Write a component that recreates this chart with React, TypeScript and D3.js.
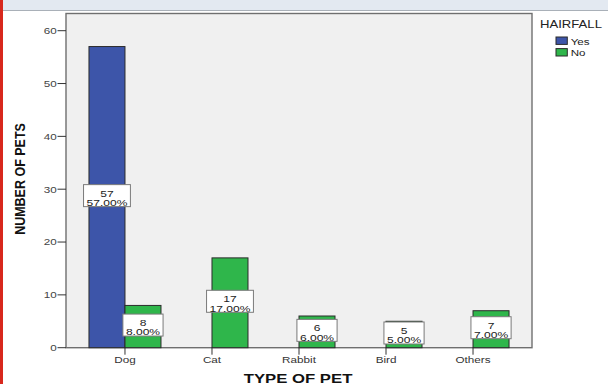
import React from "react";
import * as d3 from "d3";

// Pet ownership counts split by whether the pet sheds hair
const categories = ["Dog", "Cat", "Rabbit", "Bird", "Others"];
const series = ["Yes", "No"];
const yesCounts = [57, 0, 0, 0, 0];
const noCounts = [8, 17, 6, 5, 7];
const yTicks = [0, 10, 20, 30, 40, 50, 60];
const seriesColors = ["#3d55a9", "#2fb64b"];

const W = 608;
const H = 384;
const plot = { left: 66, right: 532, top: 13.5, bottom: 347.7 };
const SX = 1.25; // horizontal stretch applied to text
const FONT = "'Liberation Sans', Arial, sans-serif";

const total = d3.sum(yesCounts) + d3.sum(noCounts);

function SText(props: {
  x: number;
  y: number;
  sx?: number;
  rotate?: number;
  anchor?: string;
  size: number;
  weight?: string | number;
  fill?: string;
  children: React.ReactNode;
}) {
  const { x, y, sx = SX, rotate = 0, anchor = "start", size, weight = "normal", fill = "#333", children } = props;
  return (
    <text
      transform={`translate(${x},${y}) scale(${sx},1)${rotate ? ` rotate(${rotate})` : ""}`}
      textAnchor={anchor}
      fontSize={size}
      fontWeight={weight}
      fill={fill}
      fontFamily={FONT}
    >
      {children}
    </text>
  );
}

export default function App() {
  const x0 = d3
    .scaleBand<string>()
    .domain(categories)
    .range([plot.left, plot.right])
    .paddingInner(0.1724)
    .paddingOuter(0.264);
  const x1 = d3.scaleBand<string>().domain(series).range([0, x0.bandwidth()]);
  const y = d3.scaleLinear().domain([0, 60]).range([347.7, 30.7]);

  const values = [yesCounts, noCounts];
  const bars = categories
    .flatMap((c, ci) => series.map((s, si) => ({ c, s, si, v: values[si][ci] })))
    .filter((b) => b.v > 0);

  const tickLen = 8.5;

  return (
    <svg
      width={W}
      height={H}
      style={{ position: "absolute", left: 0, top: 0, background: "#fff" }}
    >
      {/* header strip and left accent */}
      <rect x={0} y={0} width={W} height={10} fill="#e3e9f1" />
      <line x1={0} x2={W} y1={10.5} y2={10.5} stroke="#a9b0b8" strokeWidth={1} />
      <rect x={0} y={0} width={3} height={H} fill="#d8281d" />

      {/* plot area */}
      <rect
        x={plot.left}
        y={plot.top}
        width={plot.right - plot.left}
        height={plot.bottom - plot.top}
        fill="#f0f0f0"
        stroke="#6f6f6f"
        strokeWidth={1.4}
      />

      {/* y axis */}
      {yTicks.map((t) => (
        <g key={t}>
          <line
            x1={plot.left - tickLen}
            x2={plot.left}
            y1={y(t)}
            y2={y(t)}
            stroke="#333"
            strokeWidth={1}
          />
          <SText x={plot.left - tickLen - 0.8} y={y(t) + 3.3} anchor="end" size={9} fill="#444" sx={1.3}>
            {t}
          </SText>
        </g>
      ))}

      {/* bars */}
      {bars.map((b) => {
        const bx = (x0(b.c) as number) + (x1(b.s) as number);
        return (
          <rect
            key={b.c + b.s}
            x={bx}
            y={y(b.v)}
            width={x1.bandwidth()}
            height={y(0) - y(b.v)}
            fill={seriesColors[b.si]}
            stroke="#2b2b2b"
            strokeWidth={1}
          />
        );
      })}

      {/* value labels: count and share of total */}
      {bars.map((b) => {
        const cx = (x0(b.c) as number) + (x1(b.s) as number) + x1.bandwidth() / 2;
        const mid = (y(b.v) + y(0)) / 2;
        const pct = ((b.v / total) * 100).toFixed(2) + "%";
        const fs = 9.8;
        const sx = 1.23;
        const approxW = (pct.length - 2) * 0.556 * fs + 0.278 * fs + 0.889 * fs;
        const boxW = approxW * sx + 6;
        return (
          <g key={"l" + b.c + b.s}>
            <rect
              x={cx - boxW / 2}
              y={mid - 12.5}
              width={boxW}
              height={22}
              fill="#fff"
              stroke="#7a7a7a"
              strokeWidth={1}
            />
            <text
              transform={`translate(${cx},${mid - 0.6}) scale(${sx},1)`}
              textAnchor="middle"
              fontSize={fs}
              fill="#222"
              fontFamily={FONT}
            >
              <tspan x={0} dy={0}>{b.v}</tspan>
              <tspan x={0} dy={9.4}>{pct}</tspan>
            </text>
          </g>
        );
      })}

      {/* x axis ticks and labels */}
      {categories.map((c) => {
        const cx = (x0(c) as number) + x0.bandwidth() / 2;
        return (
          <g key={c}>
            <line x1={cx} x2={cx} y1={plot.bottom} y2={plot.bottom + 7} stroke="#333" strokeWidth={1} />
            <SText x={cx} y={363} anchor="middle" size={9} fill="#333" sx={1.3}>
              {c}
            </SText>
          </g>
        );
      })}

      {/* axis titles */}
      <SText x={298} y={382.6} anchor="middle" size={13.5} weight="bold" fill="#111" sx={1.24}>
        TYPE OF PET
      </SText>
      <SText x={25} y={179} anchor="middle" size={12.5} weight="bold" fill="#111" sx={1.2} rotate={-90}>
        NUMBER OF PETS
      </SText>

      {/* legend */}
      <SText x={540} y={28.3} size={10.5} fill="#222" sx={1.25}>
        HAIRFALL
      </SText>
      {series.map((s, i) => (
        <g key={s}>
          <rect
            x={556}
            y={37 + i * 11.6}
            width={11.3}
            height={7.4}
            fill={seriesColors[i]}
            stroke="#2b2b2b"
            strokeWidth={1}
          />
          <SText x={570.7} y={44.6 + i * 11.6} size={9.5} fill="#222" sx={1.22}>
            {s}
          </SText>
        </g>
      ))}
    </svg>
  );
}
